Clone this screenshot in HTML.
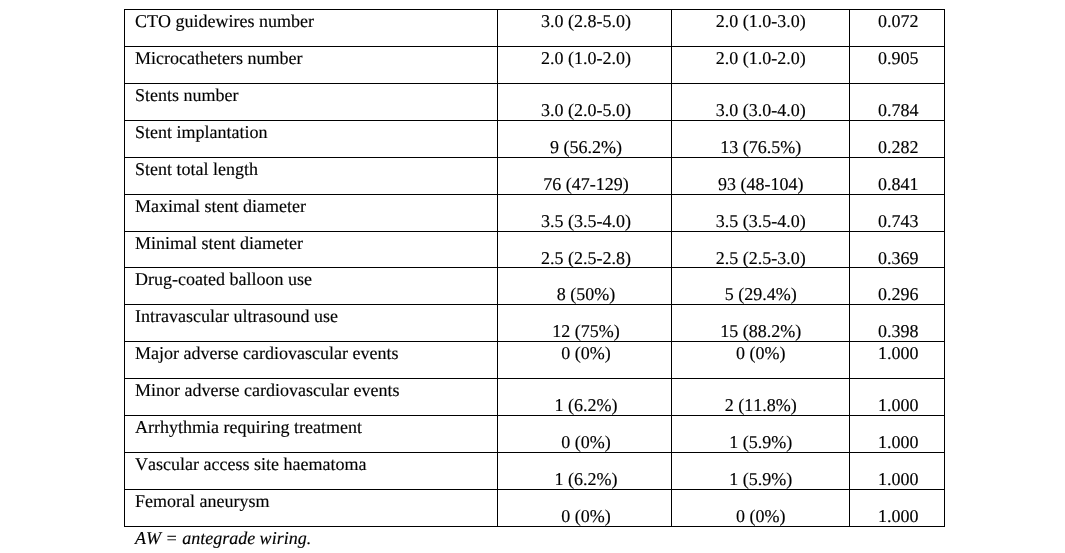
<!DOCTYPE html>
<html><head><meta charset="utf-8"><title>Table</title>
<style>
html,body{margin:0;padding:0;background:#fff;}
body{width:1065px;height:553px;position:relative;overflow:hidden;font-family:"Liberation Serif","Times New Roman",serif;font-size:18px;color:#000;font-kerning:none;font-variant-ligatures:none;text-rendering:geometricPrecision;-webkit-text-stroke:0.15px #000;}
.h,.v{position:absolute;background:#000;}
.h{height:1px;left:124px;width:821px;}
.v{width:1px;top:9px;height:518px;}
.t{position:absolute;line-height:20px;height:20px;white-space:nowrap;}
.c{text-align:center;width:160px;}
.n{font-style:italic;}
</style></head><body>
<div class="h" style="top:9px"></div><div class="h" style="top:46px"></div><div class="h" style="top:83px"></div><div class="h" style="top:120px"></div><div class="h" style="top:157px"></div><div class="h" style="top:194px"></div><div class="h" style="top:231px"></div><div class="h" style="top:267px"></div><div class="h" style="top:304px"></div><div class="h" style="top:341px"></div><div class="h" style="top:378px"></div><div class="h" style="top:415px"></div><div class="h" style="top:452px"></div><div class="h" style="top:489px"></div><div class="h" style="top:526px"></div><div class="v" style="left:124px"></div><div class="v" style="left:497px"></div><div class="v" style="left:671px"></div><div class="v" style="left:849px"></div><div class="v" style="left:944px"></div>
<div class="t" style="left:135px;top:11px">CTO guidewires number</div><div class="t c" style="left:506px;top:11px">3.0 (2.8-5.0)</div><div class="t c" style="left:680.75px;top:11px">2.0 (1.0-3.0)</div><div class="t c" style="left:818.3px;top:11px">0.072</div>
<div class="t" style="left:135px;top:48px">Microcatheters number</div><div class="t c" style="left:506px;top:48px">2.0 (1.0-2.0)</div><div class="t c" style="left:680.75px;top:48px">2.0 (1.0-2.0)</div><div class="t c" style="left:818.3px;top:48px">0.905</div>
<div class="t" style="left:135px;top:85px">Stents number</div><div class="t c" style="left:506px;top:100px">3.0 (2.0-5.0)</div><div class="t c" style="left:680.75px;top:100px">3.0 (3.0-4.0)</div><div class="t c" style="left:818.3px;top:100px">0.784</div>
<div class="t" style="left:135px;top:122px">Stent implantation</div><div class="t c" style="left:506px;top:137px">9 (56.2%)</div><div class="t c" style="left:680.75px;top:137px">13 (76.5%)</div><div class="t c" style="left:818.3px;top:137px">0.282</div>
<div class="t" style="left:135px;top:159px">Stent total length</div><div class="t c" style="left:506px;top:174px">76 (47-129)</div><div class="t c" style="left:680.75px;top:174px">93 (48-104)</div><div class="t c" style="left:818.3px;top:174px">0.841</div>
<div class="t" style="left:135px;top:196px">Maximal stent diameter</div><div class="t c" style="left:506px;top:211px">3.5 (3.5-4.0)</div><div class="t c" style="left:680.75px;top:211px">3.5 (3.5-4.0)</div><div class="t c" style="left:818.3px;top:211px">0.743</div>
<div class="t" style="left:135px;top:233px">Minimal stent diameter</div><div class="t c" style="left:506px;top:248px">2.5 (2.5-2.8)</div><div class="t c" style="left:680.75px;top:248px">2.5 (2.5-3.0)</div><div class="t c" style="left:818.3px;top:248px">0.369</div>
<div class="t" style="left:135px;top:269px">Drug-coated balloon use</div><div class="t c" style="left:506px;top:284px">8 (50%)</div><div class="t c" style="left:680.75px;top:284px">5 (29.4%)</div><div class="t c" style="left:818.3px;top:284px">0.296</div>
<div class="t" style="left:135px;top:306px">Intravascular ultrasound use</div><div class="t c" style="left:506px;top:321px">12 (75%)</div><div class="t c" style="left:680.75px;top:321px">15 (88.2%)</div><div class="t c" style="left:818.3px;top:321px">0.398</div>
<div class="t" style="left:135px;top:343px">Major adverse cardiovascular events</div><div class="t c" style="left:506px;top:343px">0 (0%)</div><div class="t c" style="left:680.75px;top:343px">0 (0%)</div><div class="t c" style="left:818.3px;top:343px">1.000</div>
<div class="t" style="left:135px;top:380px">Minor adverse cardiovascular events</div><div class="t c" style="left:506px;top:395px">1 (6.2%)</div><div class="t c" style="left:680.75px;top:395px">2 (11.8%)</div><div class="t c" style="left:818.3px;top:395px">1.000</div>
<div class="t" style="left:135px;top:417px">Arrhythmia requiring treatment</div><div class="t c" style="left:506px;top:432px">0 (0%)</div><div class="t c" style="left:680.75px;top:432px">1 (5.9%)</div><div class="t c" style="left:818.3px;top:432px">1.000</div>
<div class="t" style="left:135px;top:454px">Vascular access site haematoma</div><div class="t c" style="left:506px;top:469px">1 (6.2%)</div><div class="t c" style="left:680.75px;top:469px">1 (5.9%)</div><div class="t c" style="left:818.3px;top:469px">1.000</div>
<div class="t" style="left:135px;top:491px">Femoral aneurysm</div><div class="t c" style="left:506px;top:506px">0 (0%)</div><div class="t c" style="left:680.75px;top:506px">0 (0%)</div><div class="t c" style="left:818.3px;top:506px">1.000</div>
<div class="t n" style="left:135px;top:528px">AW = antegrade wiring.</div>
</body></html>
